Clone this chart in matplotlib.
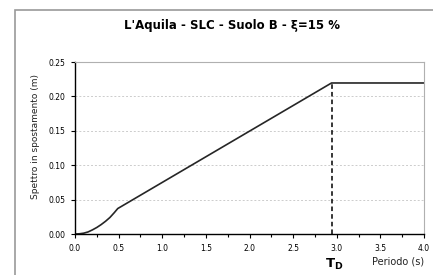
import numpy as np
import matplotlib.pyplot as plt
from matplotlib.patches import Rectangle
from matplotlib.ticker import MultipleLocator

# displacement spectrum
periodo = [0.0, 0.05, 0.1, 0.15, 0.2, 0.25, 0.3, 0.35, 0.4, 0.45, 0.49, 2.94, 4.0]
spostamento = [0.0, 0.0003, 0.0012, 0.003, 0.006, 0.0095, 0.0137, 0.0185, 0.024, 0.031, 0.037, 0.2195, 0.2195]
T_D = 2.94
SD_max = 0.2195

fig = plt.figure(figsize=(4.33, 2.75), dpi=100)
# outer frame of the chart area
fig.patches.append(Rectangle((15/433, -0.1), 1.2, 1 - 10/275 + 0.1, transform=fig.transFigure,
                             fill=False, edgecolor='#9a9a9a', linewidth=1.2))

ax = fig.add_axes([75/433, 1 - 234/275, 349/433, 172/275])
ax.plot(periodo, spostamento, color='#262626', linewidth=1.2)
ax.plot([T_D, T_D], [0, SD_max], color='black', linestyle=(0, (3, 2)), linewidth=1.1)

ax.set_xlim(0, 4.0)
ax.set_ylim(0, 0.25)
ax.xaxis.set_major_locator(MultipleLocator(0.5))
ax.xaxis.set_minor_locator(MultipleLocator(0.25))
ax.yaxis.set_major_locator(MultipleLocator(0.05))
ax.xaxis.set_major_formatter(lambda v, p: f'{v:.1f}')
ax.yaxis.set_major_formatter(lambda v, p: f'{v:.2f}')
ax.tick_params(labelsize=5.5, length=3, width=0.8, colors='black', pad=4)
ax.tick_params(which='minor', length=2, width=0.8)
ax.grid(axis='y', color='#cccccc', linestyle=(0, (2, 2)), linewidth=0.7)
ax.set_axisbelow(True)
for s in ['top', 'right']:
    ax.spines[s].set_color('#b0b0b0')
for s in ['left', 'bottom']:
    ax.spines[s].set_color('black')
    ax.spines[s].set_linewidth(1.0)

fig.text(35/433, 1 - 136/275, 'Spettro in spostamento (m)', fontsize=6.5, rotation=90,
         ha='center', va='center', color='#222222')
fig.text(398/433, 1 - 262/275, 'Periodo (s)', fontsize=7, ha='center', va='center', color='#222222')
fig.text(334/433, 1 - 264/275, r'$\mathbf{T_D}$', fontsize=9.5, ha='center', va='center')
fig.text(232/433, 1 - 25/275, "L'Aquila - SLC - Suolo B - ξ=15 %", fontsize=8.5, fontweight='bold',
         ha='center', va='center')

fig.savefig('out.png', dpi=100)
